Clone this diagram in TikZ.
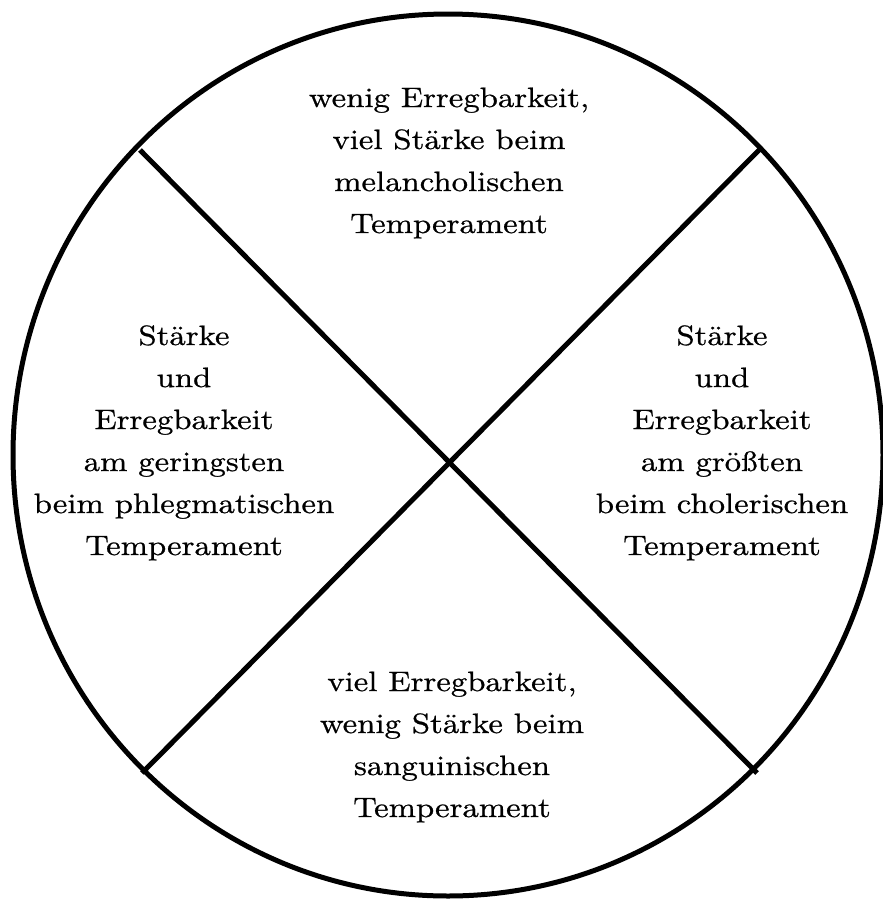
\documentclass[tikz,border=0pt]{standalone}
\usepackage{fontspec}
\setmainfont{lmroman10-regular.otf}[FakeStretch=1.17,FakeBold=0.7]
\begin{document}
\begin{tikzpicture}[x=1pt,y=-1pt,
  lbl/.style={align=center,anchor=base,inner sep=0pt,font=\fontsize{28}{42}\selectfont},
  stroke/.style={line width=5pt,black}]
\useasboundingbox (0,0) rectangle (883,900);
\draw[stroke] (448,455) ellipse [x radius=435, y radius=441];
\coordinate (tl) at (140,150);
\coordinate (br) at (757,773);
\coordinate (tr) at (762,147);
\coordinate (bl) at (142,773);
\draw[stroke] (tl) -- (br);
\draw[stroke] (tr) -- (bl);
\node[lbl] (top) at (449,233) {wenig Erregbarkeit,\\viel Stärke beim\\melancholischen\\Temperament};
\node[lbl] (left) at (184,555) {Stärke\\und\\Erregbarkeit\\am geringsten\\beim phlegmatischen\\Temperament};
\node[lbl] (right) at (722,555) {Stärke\\und\\Erregbarkeit\\am größten\\beim cholerischen\\Temperament};
\node[lbl] (bottom) at (452,817) {viel Erregbarkeit,\\wenig Stärke beim\\sanguinischen\\Temperament};
\end{tikzpicture}
\end{document}
